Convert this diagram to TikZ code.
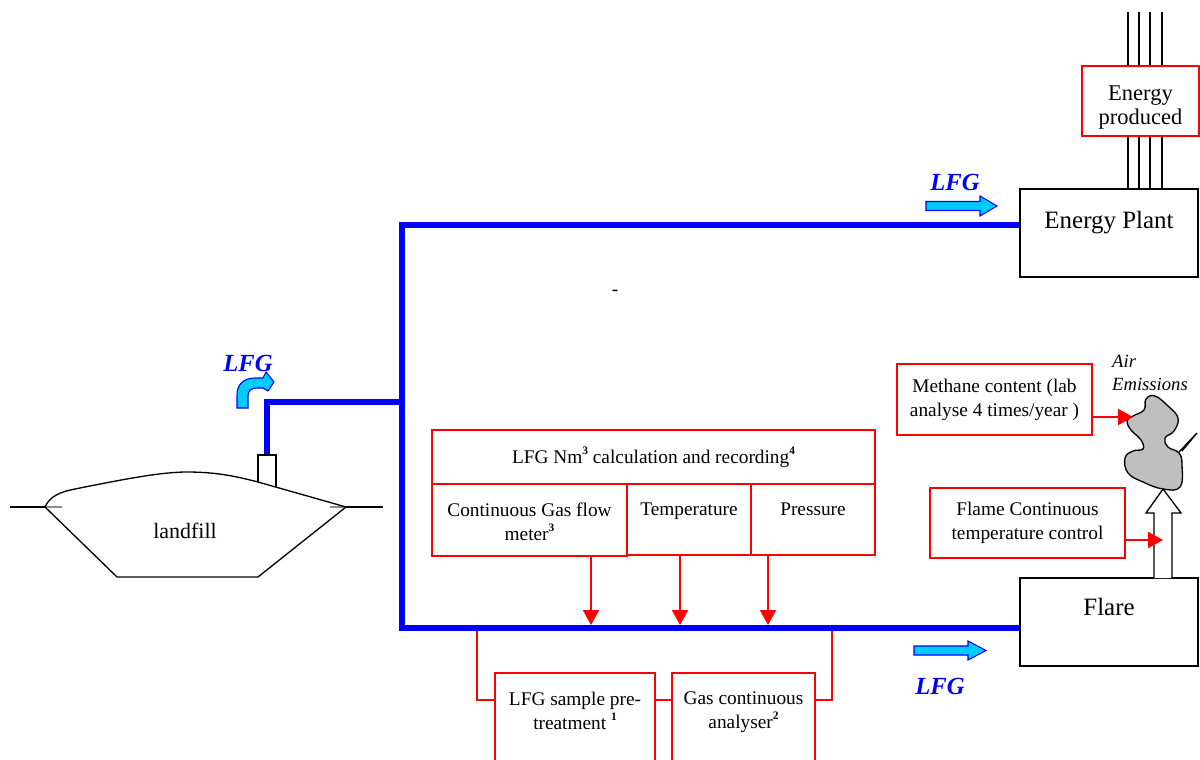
\documentclass[tikz,border=0pt]{standalone}
\usepackage{fontspec}
\setmainfont{Liberation Serif}
\usetikzlibrary{positioning, arrows.meta}
\definecolor{pipeblue}{RGB}{0,0,255}
\definecolor{gascyan}{RGB}{0,204,255}
\definecolor{measred}{RGB}{255,0,0}
\newcommand{\note}[1]{\raisebox{5pt}{\fontsize{6.5}{6.5}\selectfont\bfseries #1}}

\begin{document}
\begin{tikzpicture}[x=0.02cm, y=-0.02cm,
    pipe/.style={draw=pipeblue, line width=3.8pt},
    ground/.style={draw=black, line width=0.75pt},
    redbox/.style={draw=measred, line width=0.8pt, fill=white, inner sep=0pt},
    blackbox/.style={draw=black, line width=0.9pt, fill=white, inner sep=0pt},
    txt/.style={font=\fontsize{11}{13.6}\selectfont, align=center},
    bigtxt/.style={font=\fontsize{14.2}{16}\selectfont},
    gastxt/.style={text=pipeblue, font=\fontsize{14}{16}\selectfont\bfseries\itshape},
    flowarrow/.style={draw=pipeblue, fill=gascyan, line width=0.6pt},
    meas/.style={measred, line width=1.4pt, -{Triangle[length=8.5pt, width=9pt]}},
    sample/.style={measred, line width=0.7pt}]
  \useasboundingbox (0,0) rectangle (1200,760);

  % plant and flare
  \node[blackbox, minimum width=3.56cm, minimum height=1.76cm] (plant) at (1109,233) {};
  \node[bigtxt, below=9.5pt of plant.north] (planttxt) {Energy Plant};
  \node[blackbox, minimum width=3.56cm, minimum height=1.76cm] (flare) at (1109,622) {};
  \node[bigtxt, below=8.5pt of flare.north] (flaretxt) {Flare};

  % power lines
  \foreach \x in {1128,1139,1150,1162}
    \draw[ground] (\x,12) -- (plant.north -| \x,0);
  \node[redbox, minimum width=2.34cm, minimum height=1.4cm] (produced) at (1140.5,101) {};
  \node[txt, font=\fontsize{12.8}{13.6}\selectfont, below=8pt of produced.north] (producedtxt) {Energy\\produced};

  % measurement boxes
  \node[redbox, txt, minimum width=8.86cm, minimum height=1.08cm] (calc) at (653.5,457) {LFG Nm\note{3} calculation and recording\note{4}};
  \node[redbox, minimum width=3.9cm, minimum height=1.44cm] (flow) at (529.5,520) {};
  \node[redbox, minimum width=2.48cm, minimum height=1.42cm] (temp) at (689,519.5) {};
  \node[redbox, minimum width=2.48cm, minimum height=1.42cm] (press) at (813,519.5) {};
  \node[txt, below=7.5pt of flow.north] (flowtxt) {Continuous Gas flow\\meter\note{3}};
  \node[txt, below=7.5pt of temp.north] (temptxt) {Temperature};
  \node[txt, below=7.5pt of press.north] (presstxt) {Pressure};

  % sampling line
  \node[redbox, minimum width=3.2cm, minimum height=1.88cm] (pretreat) at (575,720) {};
  \node[redbox, minimum width=2.86cm, minimum height=1.88cm] (analyser) at (743.5,720) {};
  \node[txt, below=7.5pt of pretreat.north] (pretreattxt) {LFG sample pre-\\treatment \note{1}};
  \node[txt, below=7.5pt of analyser.north] (analysertxt) {Gas continuous\\analyser\note{2}};
  \coordinate (tapin) at (477,628);
  \coordinate (tapout) at (832,628);
  \draw[sample] (tapin) |- (pretreat.west |- 0,700);
  \draw[sample] (pretreat.east |- 0,700) -- (analyser.west |- 0,700);
  \draw[sample] (analyser.east |- 0,700) -| (tapout);

  % gas pipe
  \coordinate (jtop) at (402,225);
  \coordinate (jmid) at (402,402);
  \coordinate (jbot) at (402,628);
  \coordinate (chim) at (267,455);
  \draw[pipe] (jtop -| plant.west) -- (jtop) -- (jbot) -- (jbot -| flare.west);
  \draw[pipe] (chim) |- (jmid);

  \coordinate (mflow) at (591,625);
  \coordinate (mtemp) at (680,625);
  \coordinate (mpress) at (768,625);
  \draw[meas] (flow.south -| mflow) -- (mflow);
  \draw[meas] (temp.south -| mtemp) -- (mtemp);
  \draw[meas] (press.south -| mpress) -- (mpress);

  % landfill
  \draw[ground] (10,507) -- (45,507) (346,507) -- (383,507);
  \draw[black!45, line width=0.75pt] (45,507) -- (62,507) (330,507) -- (346,507);
  \draw[ground] (45,507) -- (117,577) -- (258,577) -- (346,507);
  \draw[ground] (45,507) .. controls (50,496) and (60,492) .. (75,489)
    .. controls (120,480) and (160,472) .. (187,472)
    .. controls (215,472) and (235,476) .. (258,482) -- (346,507);
  \draw[ground] (258,482) |- (276,455) -- (276,487);
  \node[font=\fontsize{12.5}{14}\selectfont] (landtxt) at (185,531) {landfill};

  % gas flow arrows
  \node[gastxt] (gasbranch) at (248,363) {LFG};
  \draw[flowarrow] (237,408) -- (237,395) .. controls (237,385) and (243,378) .. (255,378)
    -- (263,378) -- (266,372) -- (274,382) -- (268,391) -- (263,388) -- (257,388)
    .. controls (251,388) and (248,391) .. (248,396) -- (248,408) -- cycle;
  \node[gastxt] (gastop) at (955,182) {LFG};
  \draw[flowarrow, shift={(926,206)}] (0,-4.5) -- (54,-4.5) -- (54,-10) -- (71,0) -- (54,10) -- (54,4.5) -- (0,4.5) -- cycle;
  \node[gastxt] (gasbot) at (940,686) {LFG};
  \draw[flowarrow, shift={(914,650.5)}] (0,-4.5) -- (54,-4.5) -- (54,-9.5) -- (72,0) -- (54,9.5) -- (54,4.5) -- (0,4.5) -- cycle;

  % emissions
  \draw[ground, fill=black!25] plot[smooth cycle, tension=0.7] coordinates {(1133,416) (1144,410) (1146,399) (1155,396) (1168,406) (1178,418) (1174,431) (1165,438) (1168,447) (1179,453) (1182,465) (1180,487) (1163,489) (1143,482) (1128,473) (1125,458) (1133,451) (1143,449) (1141,440) (1131,430) (1127,421)};
  \draw[ground] (1179,452) -- (1197,433) -- (1182,451);
  \draw[ground, fill=white] (1154,578) -- (1154,513) -- (1146,513) -- (1163,489) -- (1181,513) -- (1172,513) -- (1172,578);
  \node[font=\fontsize{10.6}{13}\selectfont\itshape, align=left] (airtxt) at (1150,373) {Air\\Emissions};

  \node[redbox, txt, minimum width=3.9cm, minimum height=1.42cm] (methane) at (994.5,399.5) {Methane content (lab\\ analyse 4 times/year )};
  \node[redbox, txt, minimum width=3.9cm, minimum height=1.4cm] (flame) at (1027.5,523) {Flame Continuous\\temperature control};
  \coordinate (cloudleft) at (1133,417);
  \coordinate (stackleft) at (1163,540);
  \draw[meas] (methane.east |- cloudleft) -- (cloudleft);
  \draw[meas] (flame.east |- stackleft) -- (stackleft);

  \node[txt] (dash) at (615,293) {-};
\end{tikzpicture}
\end{document}
